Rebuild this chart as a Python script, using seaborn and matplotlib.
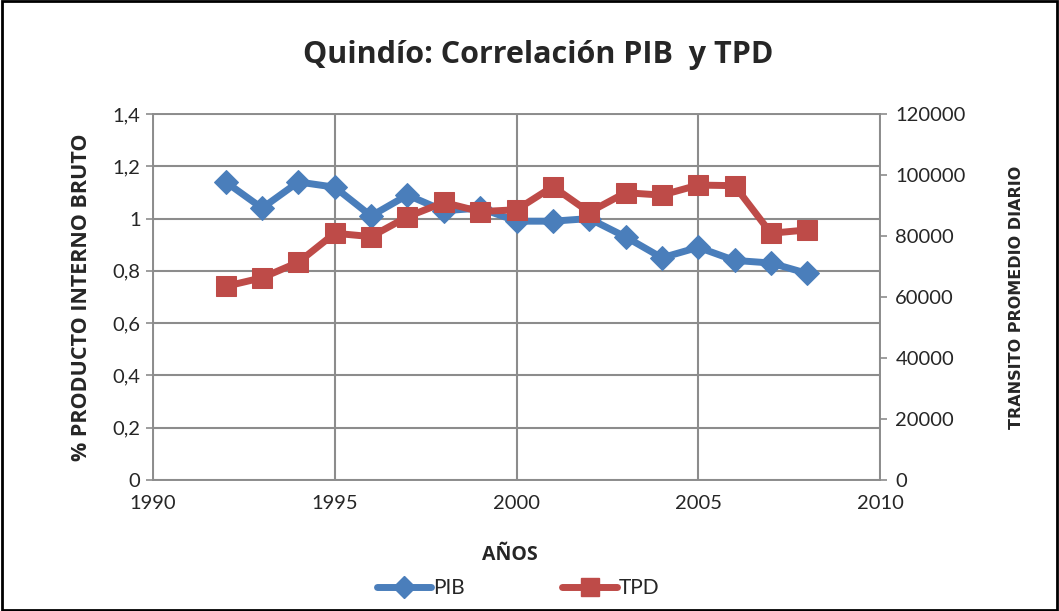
import numpy as np
import pandas as pd
import matplotlib
matplotlib.use("Agg")
import matplotlib.pyplot as plt
import seaborn as sns
from matplotlib.ticker import FuncFormatter
from matplotlib.lines import Line2D

years = list(range(1992, 2009))
pib = [1.14, 1.04, 1.14, 1.12, 1.01, 1.09, 1.03, 1.04, 0.99, 0.99, 1.00, 0.93, 0.85, 0.89, 0.84, 0.83, 0.79]
tpd = [63500, 66300, 71400, 80900, 79800, 86300, 91000, 88000, 88600, 96200, 87800, 94200, 93400, 96700, 96500, 80900, 82000]

df = pd.DataFrame({"year": years, "PIB": pib, "TPD": tpd})

sns.set_style("white")
plt.rcParams["font.family"] = ["Lato", "DejaVu Sans"]

blue = "#4A7EBB"
red = "#BE4B48"
grid_c = "#8C8C8C"
bold_font = ["Open Sans", "DejaVu Sans"]

fig = plt.figure(figsize=(10.59, 6.11), dpi=100)
ax = fig.add_axes([153/1059, 1-480/611, (880-153)/1059, (480-114)/611])
ax2 = ax.twinx()

sns.lineplot(data=df, x="year", y="PIB", ax=ax, color=blue, lw=5, marker="D",
             markersize=12, markeredgecolor=blue, zorder=3)
sns.lineplot(data=df, x="year", y="TPD", ax=ax2, color=red, lw=5, marker="s",
             markersize=14, markeredgecolor=red, zorder=3)

ax.set_xlim(1990, 2010)
ax.set_ylim(0, 1.4)
ax2.set_ylim(0, 120000)
ax.set_xticks(range(1990, 2011, 5))
ax.set_yticks(np.arange(0, 1.41, 0.2))
ax2.set_yticks(range(0, 120001, 20000))
ax.yaxis.set_major_formatter(FuncFormatter(lambda v, p: ("%g" % round(v, 1)).replace(".", ",")))

ax.grid(True, color=grid_c, lw=1.5)
ax.set_axisbelow(True)
for a in (ax, ax2):
    for s in a.spines.values():
        s.set_color(grid_c)
        s.set_linewidth(1.2)
    a.tick_params(axis="both", labelsize=14.5, length=5, color=grid_c, width=1.2, direction="out")
ax.tick_params(axis="x", pad=6)
ax.tick_params(axis="y", pad=4)
ax2.tick_params(axis="y", pad=6)

ax.set_xlabel("")
ax.set_ylabel("% PRODUCTO INTERNO BRUTO", fontsize=15.5, fontweight="bold", labelpad=15,
              family=bold_font)
ax2.set_ylabel("TRANSITO PROMEDIO DIARIO", fontsize=11.5, fontweight="bold", labelpad=31,
               family=["DejaVu Sans Condensed", "DejaVu Sans"])

fig.text(538/1059, 1-55/611, "Quindío: Correlación PIB  y TPD", ha="center", va="center",
         fontsize=22, fontweight="bold", family=bold_font)
fig.text(510/1059, 1-555/611, "AÑOS", ha="center", va="center", fontsize=14,
         fontweight="bold", family=bold_font)

handles = [Line2D([], [], color=blue, lw=5, marker="D", markersize=11, markeredgecolor=blue),
           Line2D([], [], color=red, lw=5, marker="s", markersize=13, markeredgecolor=red)]
fig.legend(handles, ["PIB", "TPD"], loc="center", bbox_to_anchor=(518/1059, 1-588/611),
           ncol=2, frameon=False, fontsize=15, handlelength=2.6, columnspacing=4.7, handletextpad=0.1)

border = plt.Rectangle((0.002, 0.002), 0.996, 0.996, transform=fig.transFigure,
                       fill=False, edgecolor="black", lw=2)
fig.patches.append(border)

fig.savefig("out.png", dpi=100)
